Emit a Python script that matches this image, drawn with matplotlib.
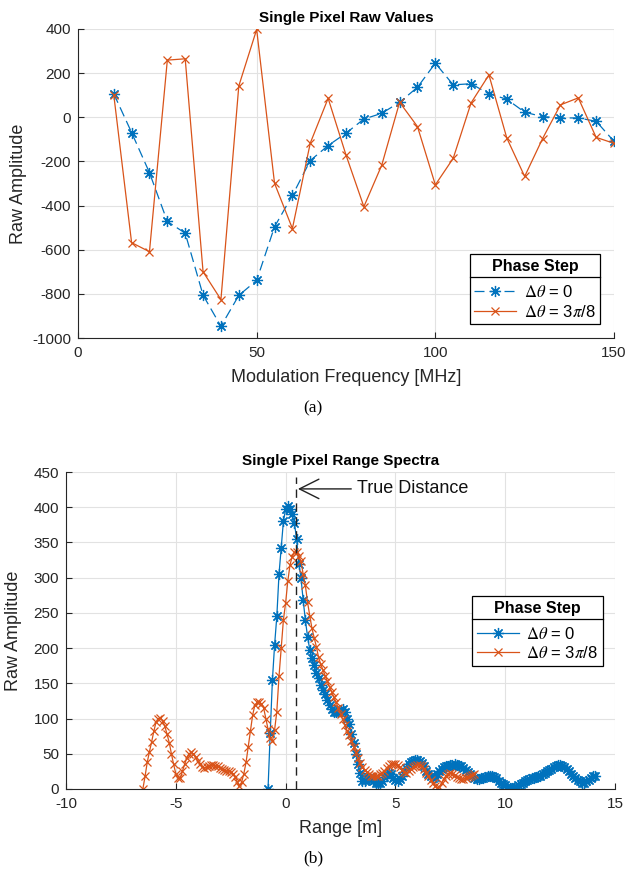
import numpy as np
import matplotlib
matplotlib.use("Agg")
import matplotlib.pyplot as plt
from matplotlib.lines import Line2D

plt.rcParams['font.family'] = ['Liberation Sans', 'DejaVu Sans']
plt.rcParams['mathtext.fontset'] = 'stix'
plt.rcParams['axes.unicode_minus'] = False

BLUE = '#0072BD'
ORANGE = '#D95319'
AXC = '#262626'
GRIDC = '#e2e2e2'

# ---------------- data: (a) raw values ----------------
freq_mhz = [10, 15, 20, 25, 30, 35, 40, 45, 50, 55, 60, 65, 70, 75, 80, 85, 90, 95,
            100, 105, 110, 115, 120, 125, 130, 135, 140, 145, 150]
raw_dtheta0 = [107, -69, -251, -472, -525, -806, -947, -807, -739, -496, -354, -196, -128, -72,
               -8, 18, 68, 136, 245, 147, 152, 106, 82, 23, 3, -3, -3, -18, -109]
raw_dtheta3pi8 = [103, -568, -609, 259, 265, -700, -826, 142, 398, -299, -504, -117, 86, -171,
                  -405, -217, 68, -42, -306, -186, 65, 192, -94, -268, -97, 56, 88, -91, -118]

# ---------------- data: (b) range spectra ----------------
range_start_dtheta0 = -0.8
range_start_dtheta3pi8 = -6.5
range_step = 0.1
spec_dtheta0 = [0, 80, 155, 205, 245, 305, 342, 380, 397, 402,
                398, 390, 378, 355, 320, 300, 268, 240, 216, 198,
                186, 176, 165, 157, 148, 141, 135, 126, 119, 114,
                110, 110, 110, 112, 114, 110, 100, 92, 78, 65,
                50, 36, 23, 12, 12, 15, 16, 14, 11, 9,
                8, 8, 12, 17, 21, 23, 21, 16, 13, 12,
                14, 18, 24, 30, 35, 38, 40, 41, 41, 40,
                37, 32, 26, 21, 18, 16, 17, 21, 25, 28,
                31, 32, 33, 34, 34, 35, 34, 33, 32, 30,
                27, 24, 21, 18, 15, 14, 14, 15, 16, 17,
                18, 18, 18, 17, 15, 12, 9, 7, 5, 3,
                2, 1, 2, 3, 5, 7, 9, 11, 13, 14,
                15, 16, 17, 18, 19, 21, 23, 25, 27, 29,
                31, 33, 34, 34, 33, 31, 28, 25, 22, 19,
                16, 13, 11, 9, 9, 11, 13, 16, 18, 19]
spec_dtheta3pi8 = [0, 18, 38, 53, 67, 82, 95, 100, 101, 97,
                   89, 78, 66, 50, 35, 22, 15, 15, 25, 35,
                   44, 50, 52, 50, 45, 40, 35, 31, 30, 31,
                   33, 34, 34, 33, 32, 30, 28, 27, 26, 25,
                   24, 22, 17, 10, 4, 10, 22, 38, 60, 82,
                   105, 119, 123, 124, 121, 115, 100, 85, 72, 68,
                   84, 110, 160, 200, 240, 264, 295, 318, 330, 336,
                   337, 331, 323, 305, 289, 265, 246, 228, 215, 202,
                   187, 177, 169, 161, 153, 145, 138, 130, 123, 115,
                   107, 99, 91, 83, 76, 68, 60, 52, 44, 37,
                   31, 27, 24, 21, 19, 18, 18, 19, 21, 23,
                   26, 30, 33, 35, 36, 36, 34, 31, 27, 24,
                   23, 25, 28, 31, 33, 34, 34, 32, 28, 23,
                   18, 13, 8, 4, 2, 3, 8, 14, 19, 22,
                   23, 22, 20, 17, 15, 14, 14, 15, 17, 19,
                   20, 21]
range_dtheta0 = range_start_dtheta0 + range_step * np.arange(len(spec_dtheta0))
range_dtheta3pi8 = range_start_dtheta3pi8 + range_step * np.arange(len(spec_dtheta3pi8))
true_distance = 0.48

labels = [r'$\Delta\theta$ = 0', r'$\Delta\theta$ = 3$\pi$/8']

W, H = 626, 873
fig = plt.figure(figsize=(W / 100, H / 100), dpi=100)

def px_axes(l, t, r, b):
    return fig.add_axes([l / W, 1 - b / H, (r - l) / W, (b - t) / H])

ast = (8, 2, 0)

def style_axes(ax):
    for s in ['top', 'right']:
        ax.spines[s].set_visible(False)
    for s in ['left', 'bottom']:
        ax.spines[s].set_color(AXC)
        ax.spines[s].set_linewidth(0.8)
    ax.tick_params(direction='in', length=4, width=0.8, color=AXC, labelcolor=AXC,
                   labelsize=11)
    ax.tick_params(axis='y', pad=5)
    ax.tick_params(axis='x', pad=6)
    ax.grid(True, color=GRIDC, linewidth=0.8)
    ax.set_axisbelow(True)

def add_legend(ax, handles, anchor):
    leg = ax.legend(handles, labels, title='Phase Step', loc='lower right',
                    bbox_to_anchor=anchor, bbox_transform=fig.transFigure,
                    fancybox=False, framealpha=1, edgecolor='black', fontsize=12,
                    title_fontproperties={'weight': 'bold', 'size': 11.5},
                    handlelength=2.5, handletextpad=0.45, borderpad=0.28,
                    labelspacing=0.2, numpoints=1, borderaxespad=0)
    leg.get_frame().set_linewidth(0.9)
    leg._legend_box.sep = 7.5
    return leg

# ---------------- (a) ----------------
ax1 = px_axes(78, 29, 614, 338)
style_axes(ax1)
h1, = ax1.plot(freq_mhz, raw_dtheta0, color=BLUE, lw=0.9, dashes=[8, 4],
               marker=ast, ms=8, mew=0.9)
h2, = ax1.plot(freq_mhz, raw_dtheta3pi8, color=ORANGE, lw=0.9, marker='x', ms=6, mew=0.9)
ax1.set_xlim(0, 150)
ax1.set_ylim(-1000, 400)
ax1.set_xticks([0, 50, 100, 150])
ax1.set_yticks(np.arange(-1000, 401, 200))
ax1.set_title('Single Pixel Raw Values', fontsize=11, fontweight='bold', pad=5)
ax1.set_xlabel('Modulation Frequency [MHz]', fontsize=13, color=AXC)
ax1.set_ylabel('Raw Amplitude', fontsize=13, color=AXC)
ax1.xaxis.set_label_coords(0.5, -(369 - 338) / 309)
ax1.yaxis.set_label_coords((27 - 78) / 536, 0.5)
leg1 = add_legend(ax1, [h1, h2], (600 / W, 1 - 324.3 / H))

# ---------------- (b) ----------------
ax2 = px_axes(66, 472, 615, 789)
style_axes(ax2)
g1, = ax2.plot(range_dtheta0, spec_dtheta0, color=BLUE, lw=0.9, marker=ast, ms=8, mew=0.9)
g2, = ax2.plot(range_dtheta3pi8, spec_dtheta3pi8, color=ORANGE, lw=0.9, marker='x', ms=6, mew=0.9)
ax2.set_xlim(-10, 15)
ax2.set_ylim(0, 450)
ax2.set_xticks(np.arange(-10, 16, 5))
ax2.set_yticks(np.arange(0, 451, 50))
ax2.axvline(true_distance, ymin=0, ymax=443 / 450, color='#222222', lw=1.0, dashes=[6, 4])
ax2.annotate('', xy=(0.56, 426), xytext=(2.99, 426),
             arrowprops=dict(arrowstyle='->,head_length=1.4,head_width=0.7',
                             color='#222222', lw=1.0, shrinkA=0, shrinkB=0))
ax2.text(3.25, 426, 'True Distance', fontsize=13, va='center', ha='left', color='#111111')
ax2.set_title('Single Pixel Range Spectra', fontsize=11, fontweight='bold', pad=5)
ax2.set_xlabel('Range [m]', fontsize=13, color=AXC)
ax2.set_ylabel('Raw Amplitude', fontsize=13, color=AXC)
ax2.xaxis.set_label_coords(0.5, -(820 - 789) / 317)
ax2.yaxis.set_label_coords((22 - 66) / 549, 0.5)
leg2 = add_legend(ax2, [g1, g2], (602.7 / W, 1 - 666 / H))

# captions
fig.text(313 / W, 1 - 408 / H, '(a)', fontsize=12.5, family='Liberation Serif', ha='center', va='center')
fig.text(313 / W, 1 - 858 / H, '(b)', fontsize=12.5, family='Liberation Serif', ha='center', va='center')

# separator line under legend titles
fig.canvas.draw()
r = fig.canvas.get_renderer()
inv = fig.transFigure.inverted()
for leg in (leg1, leg2):
    fb = leg.get_frame().get_window_extent(r)
    tb = leg.get_title().get_window_extent(r)
    y = tb.y0 - 3.5
    (x0, yy), = inv.transform([(fb.x0, y)])
    (x1, _), = inv.transform([(fb.x1, y)])
    fig.add_artist(Line2D([x0, x1], [yy, yy], transform=fig.transFigure, color='black', lw=0.9))

fig.savefig('out.png', dpi=100)
